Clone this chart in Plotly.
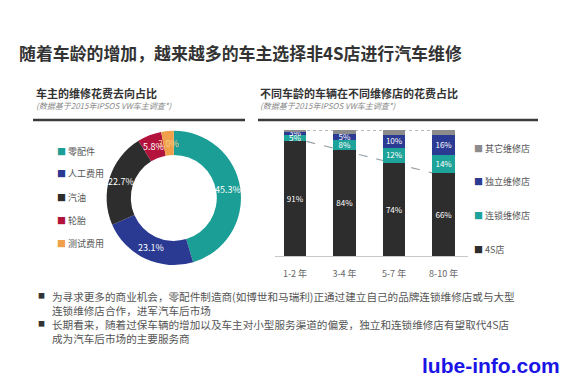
import math
import plotly.graph_objects as go

# ---- data ----
pie_labels = ["零配件", "人工费用", "汽油", "轮胎", "测试费用"]
pie_values = [45.3, 23.1, 22.7, 5.8, 3.0]
pie_colors = ["#1b9e96", "#2a3a92", "#2d2d2d", "#b3123c", "#f0a04b"]
pie_text_colors = ["white", "white", "white", "white", "#f6cf8a"]

age_groups = ["1-2 年", "3-4 年", "5-7 年", "8-10 年"]
shop_4s = [91, 84, 74, 66]
shop_chain = [5, 8, 12, 14]
shop_indep = [3, 5, 10, 16]
shop_other = [1, 3, 4, 4]
bar_names = ["4S店", "连锁维修店", "独立维修店", "其它维修店"]
bar_colors = ["#2d2d2d", "#1ea39a", "#2b3a92", "#8c8c8c"]

FONT = "Noto Sans CJK SC, sans-serif"
W, H = 567, 378
BAR_W = 0.46
HOLE = 0.64
PIE_DOM_X = [0.188, 0.425]
PIE_DOM_Y = [0.298, 0.655]

fig = go.Figure()

fig.add_trace(go.Pie(
    labels=pie_labels, values=pie_values, sort=False, direction="clockwise",
    rotation=0, hole=HOLE,
    marker=dict(colors=pie_colors, line=dict(width=0)),
    textinfo="none",
    domain=dict(x=PIE_DOM_X, y=PIE_DOM_Y),
    showlegend=False, hoverinfo="skip",
))

xs = list(range(len(age_groups)))
series = [shop_4s, shop_chain, shop_indep, shop_other]
for i, (name, vals, col) in enumerate(zip(bar_names, series, bar_colors)):
    fig.add_trace(go.Bar(
        x=xs, y=vals, name=name, width=BAR_W,
        marker=dict(color=col, line=dict(width=0)),
        text=[f"{v}%" for v in vals] if i < 3 else None,
        textposition="inside" if i < 3 else "none",
        insidetextanchor="middle", textangle=0,
        textfont=dict(family=FONT, size=9, color="white"),
        showlegend=False, hoverinfo="skip",
    ))

# decorative guide lines behind bars, derived from the data
fig.add_shape(type="line", xref="x", yref="y", layer="below",
              x0=xs[0] + BAR_W / 2, y0=shop_4s[0],
              x1=xs[-1] - BAR_W / 2, y1=shop_4s[-1],
              line=dict(color="#9aa3a8", width=1.2, dash="dash"))
top_total = shop_4s[0] + shop_chain[0] + shop_indep[0] + shop_other[0]
fig.add_shape(type="line", xref="x", yref="y", layer="below",
              x0=xs[0], y0=top_total, x1=xs[-1], y1=top_total,
              line=dict(color="#9aa3a8", width=1.2, dash="dot"))

fig.update_layout(
    barmode="stack",
    width=W, height=H,
    margin=dict(l=0, r=0, t=0, b=0),
    paper_bgcolor="white", plot_bgcolor="rgba(0,0,0,0)",
    font=dict(family=FONT, color="#444"),
    uniformtext=dict(minsize=8, mode="show"),
    xaxis=dict(domain=[0.4854, 0.826], range=[-0.4, 3.5],
               tickvals=xs, ticktext=age_groups,
               tickfont=dict(family=FONT, size=9, color="#666"),
               showline=True, linecolor="#c8c8c8", linewidth=1,
               ticks="outside", ticklen=9, tickcolor="rgba(0,0,0,0)",
               showgrid=False, zeroline=False, fixedrange=True),
    yaxis=dict(domain=[0.3228, 0.656], range=[0, 100], visible=False,
               fixedrange=True),
)

ann = []

# pie percentage labels, placed at the middle of each ring slice
cx = (PIE_DOM_X[0] + PIE_DOM_X[1]) / 2 * W
cy = (1 - (PIE_DOM_Y[0] + PIE_DOM_Y[1]) / 2) * H
r_out = min((PIE_DOM_X[1] - PIE_DOM_X[0]) * W, (PIE_DOM_Y[1] - PIE_DOM_Y[0]) * H) / 2
r_mid = r_out * (1 + HOLE) / 2
total = sum(pie_values)
cum = 0.0
for v, tc in zip(pie_values, pie_text_colors):
    frac = (cum + v / 2) / total
    cum += v
    ang = 2 * math.pi * frac
    px = cx + r_mid * math.sin(ang)
    py = cy - r_mid * math.cos(ang)
    ann.append(dict(text=f"{v:.1f}%", x=px / W, y=1 - py / H,
                    xanchor="center", yanchor="middle",
                    font=dict(family=FONT, size=9, color=tc)))

# main title
ann.append(dict(text="<b>随着车龄的增加，越来越多的车主选择非4S店进行汽车维修</b>",
                x=17 / W, y=1 - 52 / H, xanchor="left", yanchor="middle",
                font=dict(family=FONT, size=16.9, color="#333")))
# section headers
for x0, head in [(34, "车主的维修花费去向占比"), (258, "不同车龄的车辆在不同维修店的花费占比")]:
    ann.append(dict(text=f"<b>{head}</b>", x=x0 / W, y=1 - 93 / H,
                    xanchor="left", yanchor="middle",
                    font=dict(family=FONT, size=11, color="#333")))
    ann.append(dict(text="<i>(数据基于2015年IPSOS VW车主调查*)</i>", x=x0 / W,
                    y=1 - 105 / H, xanchor="left", yanchor="middle",
                    font=dict(family=FONT, size=8, color="#888")))

# pie legend
pie_leg_y = [151, 174, 197, 220, 243]
for lab, col, yy in zip(pie_labels, pie_colors, pie_leg_y):
    ann.append(dict(text=f"<span style='color:{col}'>■</span> {lab}",
                    x=55 / W, y=1 - yy / H, xanchor="left", yanchor="middle",
                    font=dict(family=FONT, size=9, color="#555")))

# bar legend (top to bottom: other, indep, chain, 4S)
bar_leg_y = [148, 182, 215, 249]
for lab, col, yy in zip(bar_names[::-1], bar_colors[::-1], bar_leg_y):
    ann.append(dict(text=f"<span style='color:{col}'>■</span> {lab}",
                    x=472 / W, y=1 - yy / H, xanchor="left", yanchor="middle",
                    font=dict(family=FONT, size=9, color="#555")))

# bullets
bullets = [
    ("为寻求更多的商业机会，零配件制造商(如博世和马瑞利)正通过建立自己的品牌连锁维修店或与大型",
     "连锁维修店合作，进军汽车后市场", 295),
    ("长期看来，随着过保车辆的增加以及车主对小型服务渠道的偏爱，独立和连锁维修店有望取代4S店",
     "成为汽车后市场的主要服务商", 323),
]
for l1, l2, yy in bullets:
    ann.append(dict(text="■", x=36 / W, y=1 - yy / H, xanchor="left",
                    yanchor="middle", font=dict(family=FONT, size=7, color="#333")))
    ann.append(dict(text=l1 + "<br>" + l2, x=50 / W, y=1 - (yy - 8) / H,
                    xanchor="left", yanchor="top", align="left",
                    font=dict(family=FONT, size=10.6, color="#555")))

# watermark
ann.append(dict(text="<b>lube-info.com</b>", x=561 / W, y=0,
                xanchor="right", yanchor="bottom", borderpad=0,
                font=dict(family="Liberation Sans, Arial, sans-serif", size=21,
                          color="#1a14e6")))

for a in ann:
    a.update(xref="paper", yref="paper", showarrow=False)
fig.update_layout(annotations=ann)

fig.update_layout(shapes=list(fig.layout.shapes) + [
    dict(type="line", xref="paper", yref="paper", x0=33 / W, x1=245 / W,
         y0=1 - 120 / H, y1=1 - 120 / H, line=dict(color="#3a3a3a", width=2.5)),
    dict(type="line", xref="paper", yref="paper", x0=258 / W, x1=538 / W,
         y0=1 - 120 / H, y1=1 - 120 / H, line=dict(color="#3a3a3a", width=2.5)),
])

fig.write_html("out.html", config={"displayModeBar": False},
               post_script="document.body.style.margin='0';document.body.style.padding='0';")
